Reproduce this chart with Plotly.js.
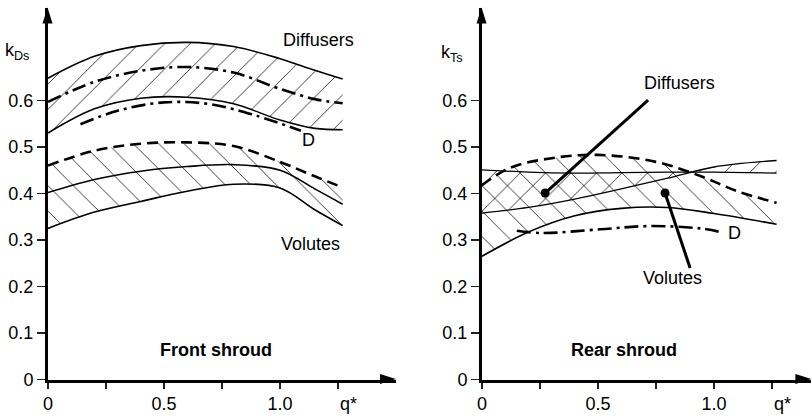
<!DOCTYPE html>
<html>
<head>
<meta charset="utf-8">
<script src="https://cdn.plot.ly/plotly-3.0.1.min.js"></script>
<style>html,body{margin:0;padding:0;background:#fff;}#chart{width:812px;height:416px;}</style>
</head>
<body>
<div id="chart"></div>
<script>
// ---------- data ----------
// Front shroud (left panel)
const qFront = [0, 0.2, 0.4, 0.6, 0.8, 1.0, 1.15, 1.27];
const frontDiffUpper = [0.648, 0.695, 0.718, 0.725, 0.716, 0.69, 0.665, 0.646];
const frontDiffLower = [0.53, 0.582, 0.605, 0.607, 0.593, 0.558, 0.54, 0.537];
const frontDiffDashDot = [0.597, 0.64, 0.664, 0.672, 0.66, 0.625, 0.603, 0.594];
const qFrontD = [0.14, 0.3, 0.5, 0.7, 0.9, 1.09];
const frontD = [0.549, 0.578, 0.596, 0.592, 0.567, 0.535];
const frontVolDashed = [0.46, 0.492, 0.507, 0.51, 0.502, 0.468, 0.437, 0.413];
const frontVolMid = [0.402, 0.43, 0.448, 0.458, 0.462, 0.45, 0.41, 0.377];
const frontVolLower = [0.325, 0.36, 0.383, 0.405, 0.42, 0.412, 0.365, 0.331];

// Rear shroud (right panel)
const qRear = [0, 0.2, 0.4, 0.6, 0.8, 1.0, 1.27];
const rearDiffUpper = [0.451, 0.446, 0.444, 0.445, 0.446, 0.446, 0.444];
const rearDiffLower = [0.358, 0.37, 0.388, 0.41, 0.433, 0.457, 0.471];
const qRearDashed = [0, 0.12, 0.3, 0.5, 0.75, 0.95, 1.1, 1.27];
const rearVolDashed = [0.418, 0.455, 0.476, 0.483, 0.468, 0.436, 0.405, 0.38];
const rearVolLower = [0.265, 0.317, 0.352, 0.368, 0.37, 0.357, 0.334];
const qRearD = [0.15, 0.26, 0.51, 0.72, 0.94, 1.02];
const rearD = [0.32, 0.315, 0.323, 0.33, 0.325, 0.318];

// axis ticks
const xTickVals = [0, 0.5, 1.0];
const xTickText = ['0', '0.5', '1.0'];
const xMinorTickVals = [0.25, 0.75, 1.25];
const yTickVals = [0, 0.1, 0.2, 0.3, 0.4, 0.5, 0.6];
const yTickText = ['0', '0.1', '0.2', '0.3', '0.4', '0.5', '0.6'];

// ---------- styling ----------
const FONT = 'Arial, "Liberation Sans", sans-serif';
const BLACK = '#000';
const HATCH = {fgcolor: '#000', fgopacity: 1, bgcolor: 'rgba(0,0,0,0)', size: 18, solidity: 0.042, fillmode: 'overlay'};
const NOFILL = 'rgba(0,0,0,0)';

function line(x, y, xa, ya, opts) {
  return Object.assign({
    type: 'scatter', mode: 'lines', x: x, y: y, xaxis: xa, yaxis: ya,
    line: {color: BLACK, width: 1.6, shape: 'spline', smoothing: 1},
    hoverinfo: 'skip', showlegend: false
  }, opts || {});
}
function hatched(x, y, xa, ya, shape, lineOpts) {
  return line(x, y, xa, ya, {
    fill: 'tonexty', fillcolor: NOFILL,
    fillpattern: Object.assign({shape: shape}, HATCH),
    line: Object.assign({color: BLACK, width: 1.6, shape: 'spline', smoothing: 1}, lineOpts || {})
  });
}
const DASH = '11px,6px';
const DASHDOT = '14px,5px,3px,5px';

const data = [
  // left panel
  line(qFront, frontDiffLower, 'x', 'y'),
  hatched(qFront, frontDiffUpper, 'x', 'y', '/'),
  line(qFront, frontVolLower, 'x', 'y'),
  hatched(qFront, frontVolDashed, 'x', 'y', '\\', {width: 2.6, dash: DASH}),
  line(qFront, frontVolMid, 'x', 'y'),
  line(qFront, frontDiffDashDot, 'x', 'y', {line: {color: BLACK, width: 2.6, dash: DASHDOT, shape: 'spline', smoothing: 1}}),
  line(qFrontD, frontD, 'x', 'y', {line: {color: BLACK, width: 2.6, dash: DASHDOT, shape: 'spline', smoothing: 1}}),
  // right panel
  line(qRear, rearDiffLower, 'x2', 'y2', {line: {color: BLACK, width: 1.3, shape: 'spline', smoothing: 1}}),
  hatched(qRear, rearDiffUpper, 'x2', 'y2', '/', {width: 1.3}),
  line(qRear, rearVolLower, 'x2', 'y2'),
  hatched(qRearDashed, rearVolDashed, 'x2', 'y2', '\\', {width: 2.6, dash: DASH}),
  line(qRearD, rearD, 'x2', 'y2', {line: {color: BLACK, width: 2.6, dash: DASHDOT, shape: 'spline', smoothing: 1}})
];

// ---------- layout ----------
const W = 812, H = 416;
const Y_MAX = 0.8;
const yDom = [(H - 379.5) / H, (H - 7.5) / H];
const xDomL = [48 / W, 396 / W];
const xDomR = [482 / W, 811.4 / W];
const xRangeL = [0, 1.5];
const xRangeR = [0, 1.42];

function xAxis(domain, range, anchor) {
  return {
    domain: domain, range: range, anchor: anchor,
    showline: true, linecolor: BLACK, linewidth: 3,
    showgrid: false, zeroline: false,
    ticks: 'outside', ticklen: 6, tickwidth: 1.2, tickcolor: '#222',
    tickmode: 'array', tickvals: xTickVals, ticktext: xTickText,
    minor: {tickmode: 'array', tickvals: xMinorTickVals, ticks: 'outside', ticklen: 6, tickwidth: 1.2, tickcolor: '#222', showgrid: false},
    tickfont: {family: FONT, size: 18, color: BLACK}, fixedrange: true
  };
}
function yAxis(anchor) {
  return {
    domain: yDom, range: [0, Y_MAX], anchor: anchor,
    showline: true, linecolor: BLACK, linewidth: 3,
    showgrid: false, zeroline: false,
    ticks: 'outside', ticklen: 8, tickwidth: 1.2, tickcolor: '#222',
    tickmode: 'array', tickvals: yTickVals, ticktext: yTickText,
    tickfont: {family: FONT, size: 18, color: BLACK}, fixedrange: true
  };
}

// convert panel data coordinates to paper fractions (so labels outside the axis range still show)
function paperX(panel, q) {
  const dom = panel === 'L' ? xDomL : xDomR;
  const rg = panel === 'L' ? xRangeL : xRangeR;
  return dom[0] + (q - rg[0]) / (rg[1] - rg[0]) * (dom[1] - dom[0]);
}
function paperY(v) { return yDom[0] + v / Y_MAX * (yDom[1] - yDom[0]); }

function txt(text, panel, q, v, extra) {
  return Object.assign({
    text: text, x: paperX(panel, q), y: paperY(v), xref: 'paper', yref: 'paper', showarrow: false,
    xanchor: 'center', yanchor: 'middle',
    font: {family: FONT, size: 18, color: BLACK}
  }, extra || {});
}

const annotations = [
  txt('k<sub>Ds</sub>', 'L', -0.134, 0.705),
  txt('k<sub>Ts</sub>', 'R', -0.129, 0.702),
  txt('q*', 'L', 1.297, -0.052),
  txt('q*', 'R', 1.297, -0.052),
  txt('Diffusers', 'L', 1.168, 0.73),
  txt('Volutes', 'L', 1.131, 0.291),
  txt('D', 'L', 1.123, 0.516),
  txt('<b>Front shroud</b>', 'L', 0.724, 0.063),
  txt('Diffusers', 'R', 0.853, 0.637),
  txt('Volutes', 'R', 0.823, 0.219),
  txt('D', 'R', 1.09, 0.316),
  txt('<b>Rear shroud</b>', 'R', 0.614, 0.063)
];

function arrowUp(xr, yr) {
  return {type: 'path', xref: xr + ' domain', yref: yr + ' domain', xsizemode: 'pixel', ysizemode: 'pixel',
    xanchor: 0, yanchor: 1, path: 'M-0.5,0 L-5.5,-16 L4.5,-16 Z',
    fillcolor: BLACK, line: {width: 0}, layer: 'above'};
}
function arrowRight(xr, yr) {
  return {type: 'path', xref: xr + ' domain', yref: yr + ' domain', xsizemode: 'pixel', ysizemode: 'pixel',
    xanchor: 1, yanchor: 0, path: 'M0,0.5 L-16,5.5 L-16,-4.5 Z',
    fillcolor: BLACK, line: {width: 0}, layer: 'above'};
}
function dot(q, v, xr, yr) {
  return {type: 'circle', xref: xr, yref: yr, xsizemode: 'pixel', ysizemode: 'pixel',
    xanchor: q, yanchor: v, x0: -4.5, x1: 4.5, y0: -4.5, y1: 4.5,
    fillcolor: BLACK, line: {width: 0}};
}

const shapes = [
  arrowUp('x', 'y'), arrowRight('x', 'y'),
  arrowUp('x2', 'y2'), arrowRight('x2', 'y2'),
  {type: 'line', xref: 'x2', yref: 'y2', x0: 0.272, y0: 0.401, x1: 0.716, y1: 0.601, line: {color: BLACK, width: 3}},
  dot(0.272, 0.401, 'x2', 'y2'),
  {type: 'line', xref: 'x2', yref: 'y2', x0: 0.789, y0: 0.401, x1: 0.897, y1: 0.24, line: {color: BLACK, width: 3}},
  dot(0.789, 0.401, 'x2', 'y2')
];

const layout = {
  width: W, height: H,
  margin: {l: 0, r: 0, t: 0, b: 0},
  paper_bgcolor: '#fff', plot_bgcolor: '#fff',
  showlegend: false,
  xaxis: xAxis(xDomL, xRangeL, 'y'),
  yaxis: yAxis('x'),
  xaxis2: xAxis(xDomR, xRangeR, 'y2'),
  yaxis2: yAxis('x2'),
  annotations: annotations,
  shapes: shapes,
  font: {family: FONT, color: BLACK}
};

Plotly.newPlot('chart', data, layout, {staticPlot: true, displayModeBar: false});
</script>
</body>
</html>
